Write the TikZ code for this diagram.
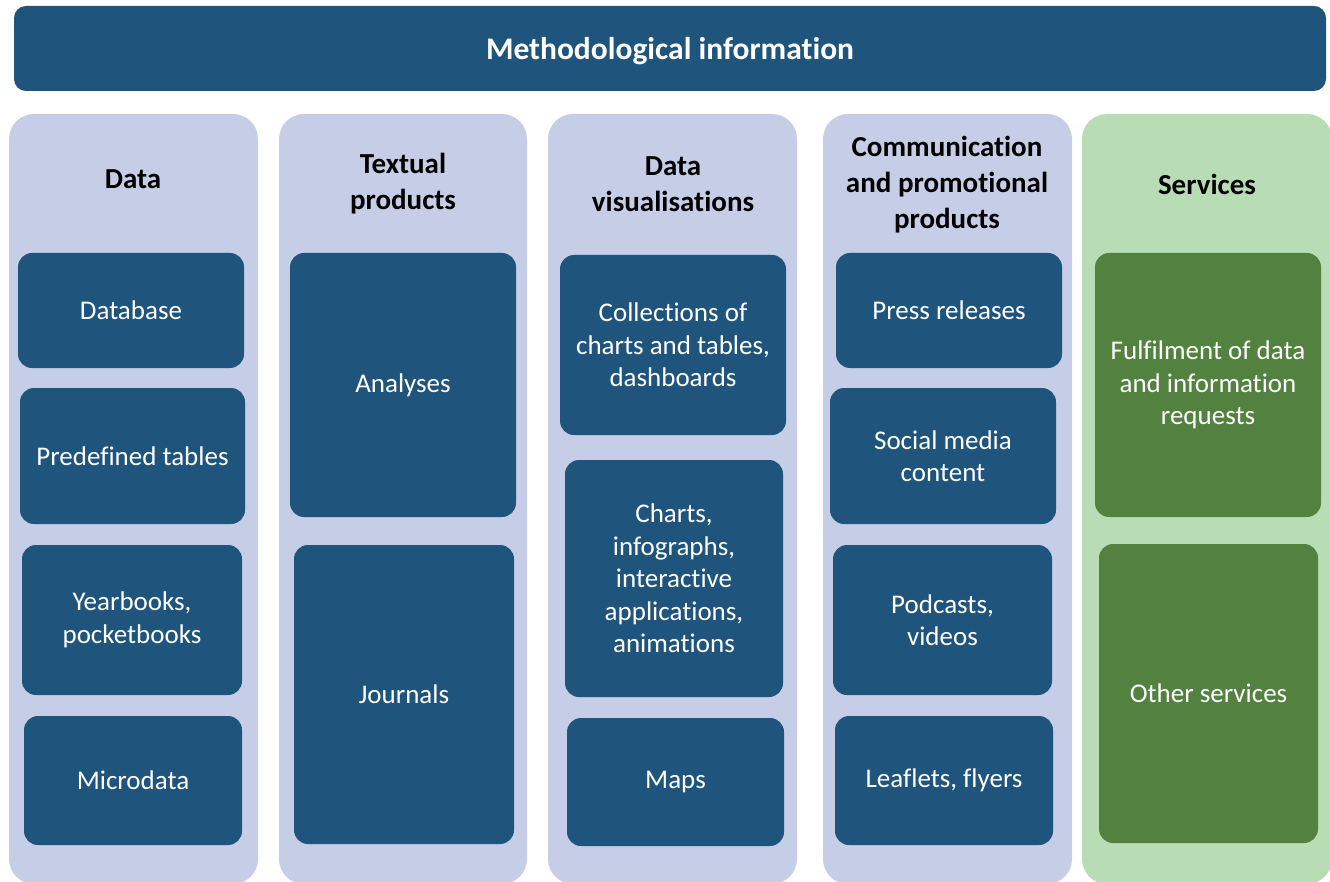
\documentclass[tikz,border=0pt]{standalone}
\usepackage{fontspec}
\setmainfont[Ligatures=NoCommon]{Carlito}
\definecolor{darkblue}{RGB}{31,84,124}
\definecolor{paleblue}{RGB}{197,206,230}
\definecolor{palegreen}{RGB}{184,221,181}
\definecolor{darkgreen}{RGB}{83,130,64}
\usetikzlibrary{positioning}

\begin{document}
\begin{tikzpicture}[x=1pt, y=-1pt,
  every node/.style = {inner sep=0pt, align=center,
    font=\fontsize{27}{32.5}\selectfont},
  banner/.style = {fill=darkblue, text=white, rounded corners=12pt,
    font=\fontsize{31.5}{36}\selectfont\bfseries},
  panel/.style = {fill=paleblue, rounded corners=25pt},
  greenpanel/.style = {panel, fill=palegreen},
  heading/.style = {font=\fontsize{29}{36}\selectfont\bfseries},
  item/.style = {fill=darkblue, text=white, rounded corners=14pt},
  greenitem/.style = {item, fill=darkgreen}]
  \useasboundingbox (0,0) rectangle (1330,882);

  % banner
  \node[banner, minimum width=1312pt, minimum height=85pt] (method) at (670,48.5) {};
  \node[text=white, font=\fontsize{31.5}{36}\selectfont\bfseries] (methodtxt) at (670,51)
    {Methodological information};

  % columns
  \node[panel, minimum width=249pt, minimum height=770pt] (coldata) at (133.5,499) {};
  \node[panel, minimum width=248pt, minimum height=770pt] (coltext) at (403,499) {};
  \node[panel, minimum width=249pt, minimum height=770pt] (colvis) at (672.5,499) {};
  \node[panel, minimum width=249pt, minimum height=770pt] (colcomm) at (947.5,499) {};
  \node[greenpanel, minimum width=250pt, minimum height=770pt] (colserv) at (1207,499) {};

  % headings
  \node[heading] (hdata) at (133,179) {Data};
  \node[heading] (htext) at (403,184) {Textual\\products};
  \node[heading] (hvis) at (673,184) {Data\\visualisations};
  \node[heading] (hcomm) at (947,185) {Communication\\and promotional\\products};
  \node[heading] (hserv) at (1207,184) {Services};

  % data
  \node[item, minimum width=226pt, minimum height=115pt] (database) at (131,310.5) {Database};
  \node[item, minimum width=225pt, minimum height=136pt] (predef) at (132.5,456) {Predefined tables};
  \node[item, minimum width=220pt, minimum height=150pt] (yearbook) at (132,620) {Yearbooks,\\pocketbooks};
  \node[item, minimum width=218pt, minimum height=129pt] (micro) at (133,780.5) {Microdata};

  % textual products
  \node[item, minimum width=226pt, minimum height=264pt] (analyses) at (403,385) {Analyses};
  \node[item, minimum width=220pt, minimum height=299pt] (journals) at (404,694.5) {Journals};

  % data visualisations
  \node[item, minimum width=226pt, minimum height=180pt] (collect) at (673,345) {Collections of\\charts and tables,\\dashboards};
  \node[item, minimum width=218pt, minimum height=237pt] (charts) at (674,578.5) {Charts,\\infographs,\\interactive\\applications,\\animations};
  \node[item, minimum width=217pt, minimum height=128pt] (maps) at (675.5,782) {Maps};

  % communication
  \node[item, minimum width=226pt, minimum height=115pt] (press) at (949,310.5) {Press releases};
  \node[item, minimum width=226pt, minimum height=136pt] (social) at (943,456) {Social media\\content};
  \node[item, minimum width=219pt, minimum height=150pt] (podcast) at (942.5,620) {Podcasts,\\videos};
  \node[item, minimum width=218pt, minimum height=129pt] (leaflet) at (944,780.5) {Leaflets, flyers};

  % services
  \node[greenitem, minimum width=226pt, minimum height=264pt] (fulfil) at (1208,385) {Fulfilment of data\\and information\\requests};
  \node[greenitem, minimum width=219pt, minimum height=299pt] (other) at (1208.5,693.5) {Other services};
\end{tikzpicture}
\end{document}
